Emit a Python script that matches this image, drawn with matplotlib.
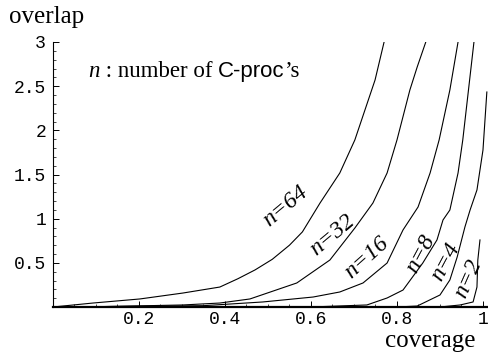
import numpy as np
import matplotlib
matplotlib.use("Agg")
import matplotlib.pyplot as plt
from matplotlib.ticker import MultipleLocator, FixedLocator

# curvas (coverage, overlap) para cada n
cov_64 = [0.0, 0.093, 0.202, 0.302, 0.388, 0.43, 0.47, 0.51, 0.55, 0.58, 0.621, 0.667, 0.702, 0.749, 0.770]
ovl_64 = [0.0, 0.045, 0.091, 0.158, 0.226, 0.32, 0.42, 0.54, 0.70, 0.85, 1.177, 1.517, 1.891, 2.570, 3.0]

cov_32 = [0.0, 0.10, 0.302, 0.388, 0.458, 0.567, 0.644, 0.702, 0.744, 0.777, 0.800, 0.830, 0.847, 0.867]
ovl_32 = [0.0, 0.003, 0.023, 0.045, 0.091, 0.272, 0.532, 0.894, 1.177, 1.517, 1.891, 2.457, 2.717, 3.0]

cov_16 = [0.0, 0.35, 0.488, 0.605, 0.667, 0.721, 0.777, 0.814, 0.849, 0.877, 0.898, 0.923, 0.942]
ovl_16 = [0.0, 0.015, 0.057, 0.113, 0.170, 0.272, 0.498, 0.872, 1.132, 1.517, 1.891, 2.457, 3.0]

cov_8 = [0.0, 0.60, 0.730, 0.777, 0.814, 0.860, 0.893, 0.907, 0.923, 0.942, 0.953, 0.979]
ovl_8 = [0.0, 0.0, 0.023, 0.102, 0.192, 0.498, 0.759, 0.985, 1.098, 1.517, 1.891, 3.0]

cov_4 = [0.0, 0.80, 0.847, 0.900, 0.923, 0.940, 0.958, 0.970, 0.986, 1.000, 1.009]
ovl_4 = [0.0, 0.0, 0.011, 0.136, 0.306, 0.566, 0.906, 1.098, 1.325, 1.777, 2.434]

cov_2 = [0.0, 0.90, 0.947, 0.977, 0.986, 0.988, 0.993]
ovl_2 = [0.0, 0.0, 0.023, 0.057, 0.226, 0.532, 0.759]

curvas = [(cov_64, ovl_64), (cov_32, ovl_32), (cov_16, ovl_16),
          (cov_8, ovl_8), (cov_4, ovl_4), (cov_2, ovl_2)]

# etiquetas de cada curva: texto, posicion y angulo
etiquetas = ["64", "32", "16", "8", "4", "2"]
etiq_x = [0.540, 0.649, 0.730, 0.856, 0.912, 0.965]
etiq_y = [1.14, 0.815, 0.555, 0.60, 0.51, 0.317]
etiq_ang = [40, 40, 42, 62, 62, 66]

xticks = [0.2, 0.4, 0.6, 0.8, 1.0]
xtick_labels = ["0.2", "0.4", "0.6", "0.8", "1"]
yticks = [0.5, 1.0, 1.5, 2.0, 2.5, 3.0]
ytick_labels = ["0.5", "1", "1.5", "2", "2.5", "3"]

serif = "Liberation Serif"
sans = "Liberation Sans"
mono = "Liberation Mono"

fig = plt.figure(figsize=(4.89, 3.52), dpi=100)
ax = fig.add_axes([53 / 489, 45 / 352, 436 / 489, 265 / 352])

for cx, cy in curvas:
    ax.plot(cx, cy, color="black", lw=0.8)

ax.set_xlim(0, 1.014)
ax.set_ylim(0, 3.0)

for s in ["top", "right"]:
    ax.spines[s].set_visible(False)
ax.spines["left"].set_linewidth(0.8)
ax.spines["bottom"].set_linewidth(1.6)

ax.xaxis.set_major_locator(FixedLocator(xticks))
ax.yaxis.set_major_locator(FixedLocator(yticks))
ax.xaxis.set_minor_locator(MultipleLocator(0.05))
ax.yaxis.set_minor_locator(MultipleLocator(0.1))
ax.set_xticklabels(xtick_labels, fontfamily=mono, fontsize=13)
ax.set_yticklabels(ytick_labels, fontfamily=mono, fontsize=13)
ax.tick_params(which="major", direction="in", length=4, width=0.7)
ax.tick_params(axis="x", which="major", pad=3)
ax.tick_params(axis="y", which="major", pad=5)
ax.tick_params(which="minor", direction="in", length=2, width=0.5)

for txt, x, y, a in zip(etiquetas, etiq_x, etiq_y, etiq_ang):
    ax.text(x, y, "n=" + txt, fontfamily=serif, style="italic", fontsize=17,
            rotation=a, rotation_mode="anchor", ha="center", va="center")

# texto de leyenda con varias fuentes
t1 = ax.text(0.082, 2.6, "n", fontfamily=serif, style="italic", fontsize=16.5, va="baseline")
t2 = ax.annotate(" : number of ", xy=(1, 0), xycoords=t1, fontfamily=serif,
                 fontsize=16.5, va="bottom")
t3 = ax.annotate("C-proc", xy=(1, 0), xycoords=t2, fontfamily=sans,
                 fontsize=16, va="bottom")
ax.annotate("\u2019s", xy=(1, 0), xycoords=t3, fontfamily=serif,
            fontsize=16.5, va="bottom")

fig.text(47 / 489, 1 - 17 / 352, "overlap", fontfamily=serif, fontsize=18,
         ha="center", va="center")
fig.text(430 / 489, 1 - 341 / 352, "coverage", fontfamily=serif, fontsize=18,
         ha="center", va="center")

fig.savefig("out.png", dpi=100)
